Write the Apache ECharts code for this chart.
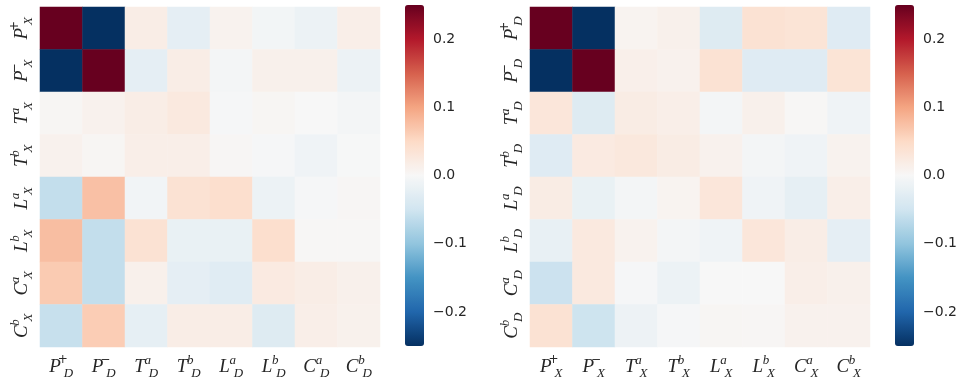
<!DOCTYPE html>
<html>
<head>
<meta charset="utf-8">
<script src="https://cdn.jsdelivr.net/npm/echarts@6/dist/echarts.min.js"></script>
<style>html,body{margin:0;padding:0;background:#fff;}#c{width:965px;height:383px;}</style>
</head>
<body>
<div id="c"></div>
<script>
// Left heatmap: rows X-factors, columns D-factors
const leftRows = ['P_X^+','P_X^-','T_X^a','T_X^b','L_X^a','L_X^b','C_X^a','C_X^b'];
const leftCols = ['P_D^+','P_D^-','T_D^a','T_D^b','L_D^a','L_D^b','C_D^a','C_D^b'];
const leftValues = [
  [ 0.30, -0.30,  0.018, -0.024,  0.009, -0.006, -0.015,  0.016],
  [-0.30,  0.30, -0.024,  0.018, -0.005,  0.012,  0.012, -0.015],
  [ 0.004, 0.010, 0.018,  0.025, -0.002,  0.004,  0.000, -0.005],
  [ 0.010, 0.004, 0.016,  0.016,  0.003, -0.002, -0.010, -0.001],
  [-0.061, 0.075,-0.008,  0.037,  0.043, -0.014, -0.002,  0.003],
  [ 0.077,-0.061, 0.037, -0.018, -0.018,  0.043,  0.002,  0.002],
  [ 0.065,-0.061, 0.012, -0.024, -0.030,  0.023,  0.018,  0.012],
  [-0.058, 0.063,-0.022,  0.018,  0.018, -0.033,  0.016,  0.011]
];
// Right heatmap: rows D-factors, columns X-factors
const rightRows = ['P_D^+','P_D^-','T_D^a','T_D^b','L_D^a','L_D^b','C_D^a','C_D^b'];
const rightCols = ['P_X^+','P_X^-','T_X^a','T_X^b','L_X^a','L_X^b','C_X^a','C_X^b'];
const rightValues = [
  [ 0.30, -0.30,  0.007,  0.012, -0.033,  0.037,  0.034, -0.032],
  [-0.30,  0.30,  0.014,  0.010,  0.037, -0.032, -0.032,  0.034],
  [ 0.030,-0.033, 0.020,  0.016, -0.005,  0.012,  0.002, -0.010],
  [-0.032, 0.023, 0.027,  0.020,  0.010, -0.005, -0.010,  0.009],
  [ 0.020,-0.018,-0.005,  0.007,  0.030, -0.010, -0.022,  0.016],
  [-0.020, 0.025, 0.009, -0.005, -0.010,  0.030,  0.018, -0.024],
  [-0.054, 0.025,-0.003, -0.015,  0.000,  0.000,  0.016,  0.012],
  [ 0.037,-0.052,-0.013, -0.002,  0.004,  0.003,  0.010,  0.010]
];
const colorTicks = [-0.2, -0.1, 0.0, 0.1, 0.2];
const vMin = -0.25, vMax = 0.25;

const rdbu_r = ['#053061','#2166ac','#4393c3','#92c5de','#d1e5f0','#f7f7f7','#fddbc7','#f4a582','#d6604d','#b2182b','#67001f'];
const textColor = '#262626';

function toCells(m){
  const out = [];
  m.forEach((row, r) => row.forEach((v, c) => out.push([c, r, v])));
  return out;
}
function mathLabel(s){
  const letter = s[0];
  const sub = s.split('_')[1].split('^')[0];
  let sup = s.split('^')[1];
  const supStyle = (sup === '+' || sup === '-') ? 'po' : 'pi';
  if (sup === '-') sup = '\u2212';
  return '{m|' + letter + '}{' + supStyle + '|' + sup + '}{s|' + sub + '}';
}
const rich = {
  m: {fontFamily: 'Liberation Serif', fontStyle: 'italic', fontSize: 19, color: textColor, lineHeight: 26, verticalAlign: 'middle'},
  po: {fontFamily: 'DejaVu Serif', fontSize: 12, color: textColor, lineHeight: 11, width: 0, align: 'left', verticalAlign: 'top', padding: [0,0,0,2]},
  pi: {fontFamily: 'Liberation Serif', fontStyle: 'italic', fontSize: 13, color: textColor, lineHeight: 11, width: 0, align: 'left', verticalAlign: 'top', padding: [0,0,0,3]},
  s: {fontFamily: 'Liberation Serif', fontStyle: 'italic', fontSize: 13, color: textColor, lineHeight: 12, verticalAlign: 'bottom', padding: [0,0,0,1]}
};
function catAxis(gridIndex, data, isY){
  return {
    type: 'category', gridIndex, data, inverse: !!isY,
    axisLine: {show: false}, axisTick: {show: false}, splitLine: {show: false},
    axisLabel: {
      interval: 0,
      margin: isY ? 5 : 7,
      rotate: isY ? 90 : 0,
      formatter: mathLabel, rich
    }
  };
}
function cbarY(gridIndex){
  return {
    type: 'value', gridIndex, min: vMin, max: vMax, position: 'right',
    axisLine: {show: false}, axisTick: {show: false}, splitLine: {show: false},
    axisLabel: {
      customValues: colorTicks, margin: 9, color: textColor,
      fontFamily: 'DejaVu Sans', fontSize: 14,
      formatter: v => (v < -1e-9 ? '\u2212' : '') + Math.abs(v).toFixed(1)
    }
  };
}
function cbarX(gridIndex){
  return {type: 'value', gridIndex, show: false, min: 0, max: 1};
}
function vmap(seriesIndex, left){
  return {
    type: 'continuous', seriesIndex, dimension: 2, min: vMin, max: vMax,
    calculable: false, hoverLink: false, realtime: false,
    left, top: 5, padding: 0, itemWidth: 19, itemHeight: 341, orient: 'vertical',
    inRange: {color: rdbu_r}, text: ['', ''], textGap: 0
  };
}
const chart = echarts.init(document.getElementById('c'), null, {renderer: 'canvas'});
chart.setOption({
  animation: false,
  backgroundColor: '#ffffff',
  grid: [
    {left: 40, top: 7, width: 340, height: 340},
    {left: 530, top: 7, width: 340, height: 340},
    {left: 405, top: 5, width: 19, height: 341},
    {left: 895, top: 5, width: 19, height: 341}
  ],
  xAxis: [catAxis(0, leftCols, false), catAxis(1, rightCols, false), cbarX(2), cbarX(3)],
  yAxis: [catAxis(0, leftRows, true), catAxis(1, rightRows, true), cbarY(2), cbarY(3)],
  visualMap: [vmap(0, 405), vmap(1, 895)],
  series: [
    {type: 'heatmap', xAxisIndex: 0, yAxisIndex: 0, data: toCells(leftValues), itemStyle: {borderWidth: 0}, emphasis: {disabled: true}},
    {type: 'heatmap', xAxisIndex: 1, yAxisIndex: 1, data: toCells(rightValues), itemStyle: {borderWidth: 0}, emphasis: {disabled: true}}
  ]
});
</script>
</body>
</html>
